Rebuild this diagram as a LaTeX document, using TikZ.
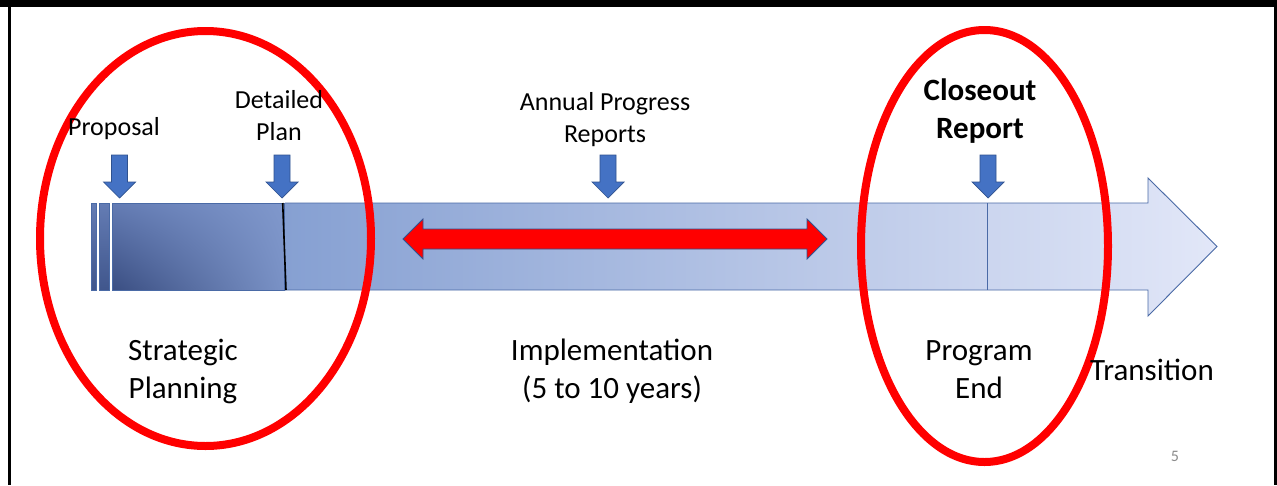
\documentclass[tikz,border=0pt]{standalone}
\usepackage{fontspec}
\setmainfont{Carlito}
\usetikzlibrary{shadings}
\definecolor{arrowblue}{HTML}{4472C4}
\definecolor{arrowedge}{HTML}{2F528F}
\definecolor{baredge}{HTML}{4A6AA6}
\definecolor{ringred}{HTML}{FF0000}
\definecolor{pagenum}{HTML}{8C8C8C}
\definecolor{segul}{RGB}{100,124,180}
\definecolor{segur}{RGB}{128,152,204}
\definecolor{segll}{RGB}{58,78,130}
\definecolor{seglr}{RGB}{122,146,198}
\definecolor{mainl}{RGB}{134,160,210}
\definecolor{mainr}{RGB}{226,231,248}
\definecolor{barbot}{RGB}{64,86,140}
\begin{document}
\begin{tikzpicture}[x=1pt,y=-1pt,
  smalltxt/.style={inner sep=0pt,align=center,font=\fontsize{26}{31.5}\selectfont},
  bigtxt/.style={inner sep=0pt,align=center,font=\fontsize{31}{38}\selectfont},
  boldtxt/.style={inner sep=0pt,align=center,font=\fontsize{31}{38}\selectfont\bfseries},
  ring/.style={draw=ringred,line width=8pt},
  edge/.style={draw=baredge,line width=0.9pt},
  bluedown/.pic={\filldraw[fill=arrowblue,draw=arrowedge,line width=0.7pt]
     (-8,0) -- (8,0) -- (8,27) -- (16,27) -- (0,43) -- (-16,27) -- (-8,27) -- cycle;}
  ]
\useasboundingbox (0,0) rectangle (1277,485);
\fill[white] (0,0) rectangle (1277,485);
% frame
\fill[black] (0,0) rectangle (1277,7);
\fill[black] (8,0) rectangle (11,485);
\fill[black] (1274,0) rectangle (1277,485);

% main timeline arrow
\shade[left color=mainl,right color=mainr]
  (285,203) -- (1148,203) -- (1148,178) -- (1217,246.5) -- (1148,316) -- (1148,290) -- (285,290) -- cycle;
\path[edge] (285,203) -- (1148,203) -- (1148,178) -- (1217,246.5) -- (1148,316) -- (1148,290) -- (285,290);
\draw[baredge,line width=0.9pt] (987,203) -- (987,290);

% dark planning segment
\shade[upper left=segul,upper right=segur,lower left=segll,lower right=seglr]
  (112,203) rectangle (284,290);
\draw[edge] (112,203) rectangle (284,290);
\draw[black,line width=1.6pt] (282.7,203) -- (286,290);

% thin bars
\shade[top color=segul,bottom color=barbot] (91,203) rectangle (96,290);
\draw[edge] (91,203) rectangle (96,290);
\shade[top color=segul,bottom color=barbot] (99,203) rectangle (109,290);
\draw[edge] (99,203) rectangle (109,290);

% red double arrow
\filldraw[fill=ringred,draw=arrowedge,line width=0.8pt]
  (403,239) -- (423,219) -- (423,229) -- (807,229) -- (807,219) -- (827,239)
  -- (807,259) -- (807,249) -- (423,249) -- (423,259) -- cycle;

% blue milestone arrows
\pic at (119.5,155) {bluedown};
\pic at (282,155) {bluedown};
\pic at (608,155) {bluedown};
\pic at (988,155) {bluedown};

% red rings
\draw[ring] (205.5,238.5) ellipse [x radius=165.5pt, y radius=207.5pt];
\draw[ring] (984.5,246) ellipse [x radius=123.5pt, y radius=216pt];

% labels (base anchor of a two-line node = baseline of its last line)
\node[smalltxt,anchor=base] (proposal) at (114,135) {Proposal};
\node[smalltxt,anchor=base] (detail) at (279,140) {Detailed\\Plan};
\node[smalltxt,anchor=base] (annual) at (605,142) {Annual Progress\\Reports};
\node[boldtxt,anchor=base] (closeout) at (980,138) {Closeout\\Report};
\node[bigtxt,anchor=base] (strategic) at (183,398) {Strategic\\Planning};
\node[bigtxt,anchor=base] (impl) at (612,398) {Implementation\\(5 to 10 years)};
\node[bigtxt,anchor=base] (progend) at (979,398) {Program\\End};
\node[bigtxt,anchor=base] (transition) at (1152,380) {Transition};
\node[inner sep=0pt,anchor=base,text=pagenum,font=\fontsize{16}{18}\selectfont] (pnum) at (1175,461) {5};
\end{tikzpicture}
\end{document}
